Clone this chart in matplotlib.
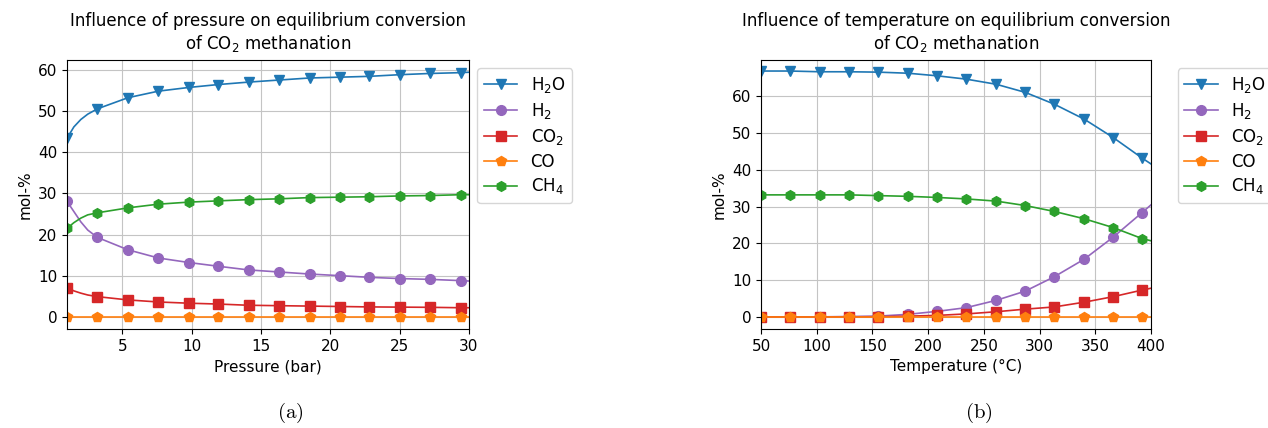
import matplotlib
matplotlib.use("Agg")
import matplotlib.pyplot as plt

# pressure sweep (bar) -- first points before the markers follow the steep start
pressure = [1.0, 1.5, 2.0, 2.5, 3.2, 5.4, 7.6, 9.8, 11.9, 14.1, 16.3, 18.5, 20.7, 22.8, 25.0, 27.2, 29.4, 30.0]
p_markers = [0, 4, 5, 6, 7, 8, 9, 10, 11, 12, 13, 14, 15, 16]
p_h2o = [43.4, 46.2, 48.0, 49.3, 50.6, 53.3, 54.9, 55.8, 56.5, 57.1, 57.6, 58.1, 58.3, 58.5, 58.9, 59.2, 59.4, 59.5]
p_h2 = [28.1, 25.6, 23.1, 21.1, 19.3, 16.3, 14.3, 13.2, 12.3, 11.4, 10.9, 10.4, 10.0, 9.6, 9.3, 9.1, 8.8, 8.7]
p_co2 = [7.1, 6.3, 5.75, 5.3, 4.9, 4.1, 3.6, 3.3, 3.1, 2.8, 2.7, 2.6, 2.5, 2.4, 2.35, 2.3, 2.2, 2.2]
p_co = [0.0] * 18
p_ch4 = [21.5, 22.9, 24.0, 24.8, 25.3, 26.5, 27.4, 27.9, 28.2, 28.5, 28.7, 29.0, 29.1, 29.2, 29.4, 29.5, 29.7, 29.7]

# temperature sweep (°C)
temperature = [50, 76, 103, 129, 155, 182, 208, 234, 261, 287, 313, 340, 366, 392, 400]
t_markers = list(range(14))
t_h2o = [66.9, 66.9, 66.7, 66.7, 66.6, 66.3, 65.6, 64.7, 63.3, 61.1, 57.9, 53.8, 48.8, 43.2, 41.6]
t_h2 = [0.0, 0.0, 0.0, 0.1, 0.2, 0.7, 1.5, 2.5, 4.5, 7.0, 10.9, 15.7, 21.7, 28.4, 30.5]
t_co2 = [0.0, 0.0, 0.0, 0.0, 0.05, 0.2, 0.4, 0.8, 1.4, 2.1, 2.7, 4.0, 5.5, 7.3, 7.8]
t_co = [0.0] * 15
t_ch4 = [33.2, 33.2, 33.2, 33.2, 33.0, 32.8, 32.5, 32.1, 31.5, 30.3, 28.7, 26.7, 24.3, 21.3, 20.7]

species = [
    ("H$_2$O", "v", "tab:blue"),
    ("H$_2$", "o", "tab:purple"),
    ("CO$_2$", "s", "tab:red"),
    ("CO", "p", "tab:orange"),
    ("CH$_4$", "h", "tab:green"),
]

plt.rcParams['mathtext.fontset'] = 'dejavusans'
plt.rcParams['grid.color'] = '#c4c4c4'

fig = plt.figure(figsize=(12.68, 4.28), dpi=100)
ax1 = fig.add_axes([0.0528, 0.2313, 0.317, 0.6285])
ax2 = fig.add_axes([0.6002, 0.2313, 0.3076, 0.6285])


def draw(ax, x, series, marks, xlabel, title, anchor):
    for (label, marker, color), y in zip(species, series):
        ax.plot(x, y, color=color, marker=marker, markevery=marks,
                markersize=7, linewidth=1.2, label=label)
    ax.set_xlim(x[0], x[-1])
    ax.grid(True)
    ax.set_xlabel(xlabel, fontsize=11)
    ax.set_ylabel("mol-%", fontsize=11)
    ax.set_title(title, fontsize=12, pad=8)
    ax.tick_params(labelsize=11)
    ax.legend(loc="upper left", bbox_to_anchor=anchor, fontsize=12,
              handlelength=2.0, labelspacing=0.35)


draw(ax1, pressure, [p_h2o, p_h2, p_co2, p_co, p_ch4], p_markers,
     "Pressure (bar)",
     "Influence of pressure on equilibrium conversion\nof CO$_2$ methanation",
     (1.0, 1.0))
draw(ax2, temperature, [t_h2o, t_h2, t_co2, t_co, t_ch4], t_markers,
     "Temperature (°C)",
     "Influence of temperature on equilibrium conversion\nof CO$_2$ methanation",
     (1.047, 1.0))
ax2.set_ylim(-3.3, 69.9)

fig.text(0.2287, 0.035, r"$\mathrm{(a)}$", ha="center", va="center", fontsize=15,
         math_fontfamily="cm")
fig.text(0.772, 0.035, r"$\mathrm{(b)}$", ha="center", va="center", fontsize=15,
         math_fontfamily="cm")

fig.savefig("out.png", dpi=100)
